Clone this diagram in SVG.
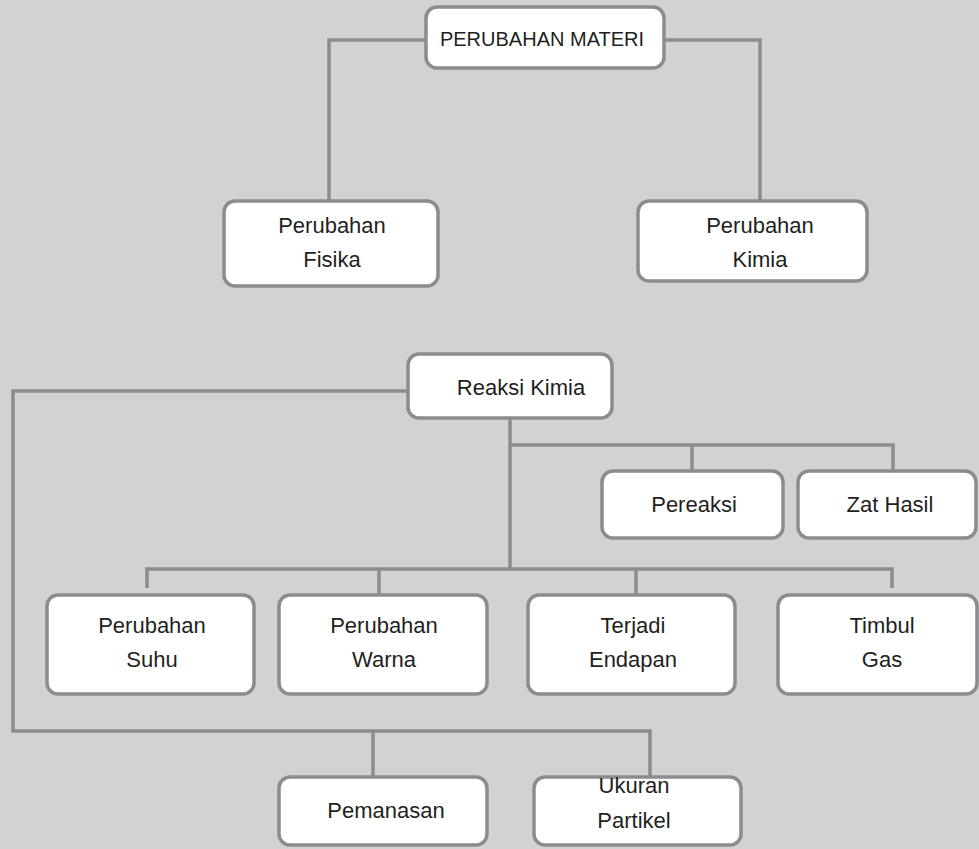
<svg xmlns="http://www.w3.org/2000/svg" width="979" height="849" viewBox="0 0 979 849">
<style>
.bg{fill:#d1d2d4}
.box{fill:#ffffff;stroke:#8b8c8e;stroke-width:3.5}
.ln{fill:none;stroke:#8b8c8e;stroke-width:3.5;stroke-linecap:butt;stroke-linejoin:miter}
text{font-family:"Liberation Sans",Arial,sans-serif;font-size:22px;fill:#231f20;text-anchor:middle}
.cap{font-size:20px}
</style>
<rect class="bg" x="0" y="0" width="979" height="849"/>
<g id="connectors">
<polyline class="ln" points="427,40 329,40 329,201"/>
<polyline class="ln" points="663,40 760,40 760,201"/>
<polyline class="ln" points="408,391 13,391 13,731 650,731 650,776"/>
<line class="ln" x1="373" y1="731" x2="373" y2="777"/>
<line class="ln" x1="510" y1="418" x2="510" y2="569"/>
<polyline class="ln" points="510,445 893,445 893,471"/>
<line class="ln" x1="692" y1="445" x2="692" y2="471"/>
<polyline class="ln" points="147,588 147,569 892,569 892,588"/>
<line class="ln" x1="379" y1="569" x2="379" y2="595"/>
<line class="ln" x1="636" y1="569" x2="636" y2="596"/>
</g>
<g id="perubahan-materi">
<rect class="box" x="426" y="7" width="238" height="61" rx="11"/>
<text class="cap" x="542" y="46">PERUBAHAN MATERI</text>
</g>
<g id="perubahan-fisika">
<rect class="box" x="224" y="201" width="214" height="85" rx="11"/>
<text x="332" y="233">Perubahan</text>
<text x="332" y="267">Fisika</text>
</g>
<g id="perubahan-kimia">
<rect class="box" x="638" y="201" width="229" height="80" rx="11"/>
<text x="760" y="233">Perubahan</text>
<text x="760" y="267">Kimia</text>
</g>
<g id="reaksi-kimia">
<rect class="box" x="408" y="354" width="204" height="64" rx="11"/>
<text x="521" y="395">Reaksi Kimia</text>
</g>
<g id="pereaksi">
<rect class="box" x="602" y="471" width="181" height="67" rx="11"/>
<text x="694" y="512">Pereaksi</text>
</g>
<g id="zat-hasil">
<rect class="box" x="798" y="471" width="178" height="67" rx="11"/>
<text x="890" y="512">Zat Hasil</text>
</g>
<g id="perubahan-suhu">
<rect class="box" x="47" y="595" width="207" height="99" rx="11"/>
<text x="152" y="633">Perubahan</text>
<text x="152" y="667">Suhu</text>
</g>
<g id="perubahan-warna">
<rect class="box" x="279" y="595" width="208" height="99" rx="11"/>
<text x="384" y="633">Perubahan</text>
<text x="384" y="667">Warna</text>
</g>
<g id="terjadi-endapan">
<rect class="box" x="528" y="595" width="207" height="99" rx="11"/>
<text x="633" y="633">Terjadi</text>
<text x="633" y="667">Endapan</text>
</g>
<g id="timbul-gas">
<rect class="box" x="778" y="595" width="199" height="99" rx="11"/>
<text x="882" y="633">Timbul</text>
<text x="882" y="667">Gas</text>
</g>
<g id="pemanasan">
<rect class="box" x="279" y="777" width="208" height="68" rx="11"/>
<text x="386" y="818">Pemanasan</text>
</g>
<g id="ukuran-partikel">
<rect class="box" x="534" y="777" width="207" height="68" rx="11"/>
<text x="634" y="793">Ukuran</text>
<text x="634" y="828">Partikel</text>
</g>
</svg>
